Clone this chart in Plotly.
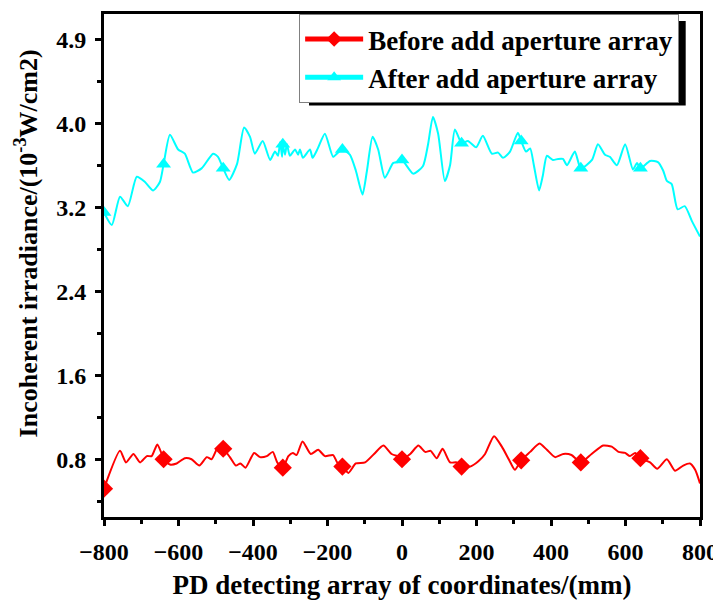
import plotly.graph_objects as go

# readings
x_before = [-800, -757, -741, -721, -703, -685, -672, -657, -645, -640, -623, -605, -583, -565,
            -544, -524, -511, -493, -480, -462, -446, -434, -420, -397, -381, -363, -347, -335,
            -320, -305, -293, -283, -267, -245, -225, -207, -185, -174, -160, -144, -124, -99,
            -75, -50, -28, -5, 0, 22, 44, 62, 77, 93, 109, 129, 147, 160, 183, 205, 223, 247,
            268, 288, 303, 320, 344, 369, 389, 411, 433, 455, 480, 509, 540, 563, 581, 599, 612,
            626, 640, 666, 685, 711, 733, 755, 773, 787, 800]
y_before = [0.52, 0.88, 0.77, 0.85, 0.77, 0.83, 0.83, 0.94, 0.85, 0.80, 0.75, 0.76, 0.81, 0.80,
            0.74, 0.82, 0.80, 0.92, 0.90, 0.82, 0.74, 0.76, 0.72, 0.86, 0.82, 0.83, 0.87, 0.77,
            0.72, 0.83, 0.86, 0.84, 0.97, 0.85, 0.89, 0.83, 0.84, 0.77, 0.73, 0.67, 0.76, 0.77,
            0.85, 0.93, 0.85, 0.82, 0.80, 0.85, 0.93, 0.87, 0.88, 0.81, 0.90, 0.77, 0.77, 0.73,
            0.73, 0.78, 0.85, 1.02, 0.92, 0.79, 0.70, 0.79, 0.87, 0.95, 0.89, 0.82, 0.85, 0.84,
            0.77, 0.85, 0.93, 0.92, 0.87, 0.86, 0.83, 0.86, 0.81, 0.77, 0.71, 0.80, 0.69, 0.74,
            0.76, 0.70, 0.57]

x_after = [-800, -779, -757, -736, -712, -690, -668, -650, -640, -623, -601, -583, -561, -538,
           -507, -494, -480, -464, -443, -424, -408, -395, -374, -354, -341, -333, -327, -322,
           -320, -314, -309, -301, -287, -279, -274, -266, -247, -240, -226, -207, -185, -172,
           -160, -140, -124, -106, -94, -79, -64, -46, -24, -11, 0, 30, 56, 70, 83, 97, 115,
           129, 142, 160, 177, 199, 217, 241, 258, 271, 290, 311, 320, 333, 344, 354, 368, 378,
           389, 405, 419, 432, 443, 464, 480, 510, 526, 545, 558, 577, 599, 620, 631, 640, 666,
           687, 701, 711, 724, 740, 759, 778, 800]
y_after = [3.15, 3.03, 3.30, 3.21, 3.49, 3.44, 3.36, 3.44, 3.61, 3.89, 3.75, 3.71, 3.53, 3.57,
           3.71, 3.68, 3.57, 3.46, 3.61, 3.96, 3.87, 3.71, 3.83, 3.65, 3.73, 3.69, 3.82, 3.68,
           3.80, 3.70, 3.80, 3.69, 3.75, 3.70, 3.75, 3.67, 3.75, 3.67, 3.76, 3.90, 3.68, 3.72,
           3.75, 3.70, 3.55, 3.32, 3.55, 3.87, 3.75, 3.48, 3.62, 3.63, 3.65, 3.52, 3.59, 3.80,
           4.06, 3.90, 3.45, 3.60, 3.94, 3.81, 3.83, 3.77, 3.88, 3.71, 3.72, 3.67, 3.73, 3.91,
           3.83, 3.73, 3.76, 3.60, 3.36, 3.50, 3.69, 3.65, 3.66, 3.66, 3.60, 3.73, 3.57, 3.65,
           3.80, 3.70, 3.68, 3.60, 3.80, 3.56, 3.62, 3.57, 3.64, 3.63, 3.55, 3.45, 3.42, 3.18,
           3.21, 3.07, 2.92]

marker_x_before = [-800, -640, -480, -320, -160, 0, 160, 320, 480, 640]
marker_x_after = [-800, -640, -480, -320, -160, 0, 160, 320, 480, 640]

y_tickvals = [0.8, 1.6, 2.4, 3.2, 4.0, 4.8]
y_ticktext = ["0.8", "1.6", "2.4", "3.2", "4.0", "4.9"]

FONT = "Liberation Serif"

fig = go.Figure()

fig.add_trace(go.Scatter(
    x=x_before, y=y_before, mode="lines+markers", name="Before add aperture array",
    line=dict(color="#ff0000", width=2, shape="spline", smoothing=0.6),
    marker=dict(symbol="diamond", color="#ff0000", opacity=1, line=dict(width=0),
                size=[14 if v in marker_x_before else 0 for v in x_before]),
))
fig.add_trace(go.Scatter(
    x=x_after, y=y_after, mode="lines+markers", name="After add aperture array",
    line=dict(color="#00ffff", width=2, shape="spline", smoothing=0.6),
    marker=dict(symbol="triangle-up", color="#00ffff", opacity=1, line=dict(width=0),
                size=[13 if v in marker_x_after else 0 for v in x_after]),
))

tick_font = dict(family=FONT, size=24, color="black", weight="bold")
axis_common = dict(showline=True, linewidth=3, linecolor="black", mirror=True,
                   ticks="outside", ticklen=6, tickwidth=2.5, tickcolor="black",
                   showgrid=False, zeroline=False, tickfont=tick_font)

fig.update_xaxes(
    range=[-800, 800], tickmode="linear", tick0=-800, dtick=200,
    minor=dict(ticks="outside", ticklen=4, tickwidth=2.5, tickcolor="black", dtick=100, tick0=-800),
    ticklabelstandoff=5,
    title=dict(text="PD detecting array of coordinates/(mm)",
               font=dict(family=FONT, size=27, color="black", weight="bold"), standoff=12),
    **axis_common,
)
fig.update_yaxes(
    range=[0.25, 5.04], tickmode="array", tickvals=y_tickvals, ticktext=y_ticktext,
    minor=dict(ticks="outside", ticklen=4, tickwidth=2.5, tickcolor="black", dtick=0.4, tick0=0),
    ticklabelstandoff=4,
    **axis_common,
)

# y title placed by hand so it sits where the original one does
fig.add_annotation(
    text="Incoherent irradiance/(10<sup>-3</sup>W/cm2)", textangle=-90,
    xref="paper", yref="paper", x=-0.13, y=0.543, xanchor="center", yanchor="middle",
    showarrow=False, font=dict(family=FONT, size=26, color="black", weight="bold"),
)

# drop shadow behind the legend box
fig.add_shape(type="rect", xref="paper", yref="paper",
              x0=0.344, x1=0.976, y0=0.818, y1=0.986,
              fillcolor="black", line=dict(width=0), layer="above")

# page body has an 8px margin, so the figure is sized to fill the rest of the window
fig.update_layout(
    width=713, height=597,
    margin=dict(l=96, r=21, t=3, b=88),
    paper_bgcolor="white", plot_bgcolor="white",
    legend=dict(x=0.965, y=1.0, xanchor="right", yanchor="top",
                bgcolor="white", bordercolor="#808080", borderwidth=1,
                font=dict(family=FONT, size=27, color="black", weight="bold"),
                itemsizing="constant", itemwidth=58, tracegroupgap=0),
    showlegend=True,
)

fig.write_html("out.html")
